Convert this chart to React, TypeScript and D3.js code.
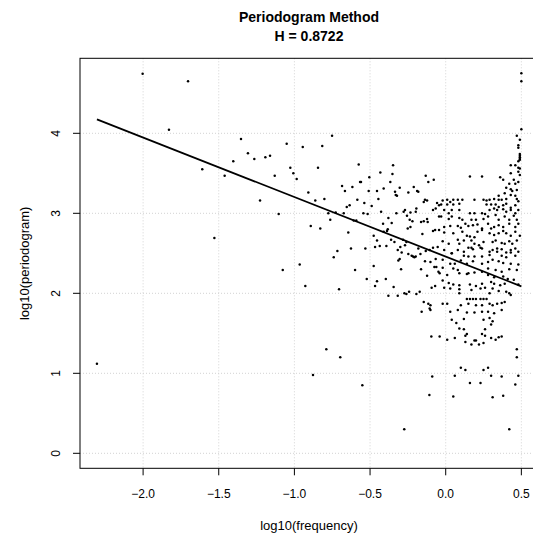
import * as d3 from "d3";

const TITLE = ["Periodogram Method", "H = 0.8722"];
const X_LABEL = "log10(frequency)";
const Y_LABEL = "log10(periodogram)";
const xTicks = [-2.0, -1.5, -1.0, -0.5, 0.0, 0.5];
const yTicks = [0, 1, 2, 3, 4];
// least-squares fit, slope = 1 - 2H
const fit = { intercept: 2.459, slope: -0.7444 };

type Pt = [number, number]; // [log10(frequency), log10(periodogram)]

const lowFreq: Pt[] = [
  [-2.305, 1.12], [-2.003, 4.745], [-1.829, 4.045], [-1.703, 4.65], [-1.609, 3.55],
  [-1.529, 2.69], [-1.461, 3.47], [-1.404, 3.65], [-1.353, 3.93], [-1.307, 3.75],
  [-1.265, 3.68], [-1.227, 3.16], [-1.192, 3.7], [-1.161, 3.72], [-1.13, 3.47],
  [-1.104, 2.99], [-1.077, 2.29], [-1.051, 3.87], [-1.027, 3.57], [-1.007, 3.5],
];

const midFreq: Pt[] = [
  [-0.985, 3.43], [-0.965, 2.36], [-0.945, 3.83], [-0.928, 2.09], [-0.908, 3.26],
  [-0.892, 2.84], [-0.877, 0.98], [-0.862, 3.16], [-0.844, 3.57], [-0.829, 2.81],
  [-0.816, 3.84], [-0.802, 3.18], [-0.789, 1.3], [-0.776, 3.0], [-0.763, 2.92],
  [-0.751, 3.97], [-0.74, 2.45], [-0.727, 3.01], [-0.716, 2.53], [-0.705, 2.05],
  [-0.697, 1.2], [-0.685, 3.34], [-0.674, 3.0], [-0.666, 3.28], [-0.654, 3.08],
  [-0.644, 2.76], [-0.635, 3.1], [-0.626, 2.56], [-0.617, 3.33], [-0.608, 2.91],
  [-0.599, 2.29], [-0.591, 2.91], [-0.584, 3.17], [-0.575, 3.61], [-0.566, 3.39],
  [-0.56, 3.39], [-0.551, 0.85], [-0.544, 3.0], [-0.538, 3.13], [-0.531, 2.56],
  [-0.522, 2.18], [-0.516, 2.99], [-0.509, 3.28], [-0.505, 3.45],
];

const bandFreq: Pt[] = [
  [-0.348, 3.6], [-0.432, 3.51], [-0.352, 3.49], [-0.366, 3.39], [-0.132, 3.47],
  [-0.115, 3.39], [-0.079, 3.42], [-0.454, 3.28], [-0.41, 3.31], [-0.445, 3.18],
  [-0.304, 3.32], [-0.335, 3.27], [-0.33, 3.23], [-0.322, 3.22], [-0.247, 3.26],
  [-0.211, 3.33], [-0.189, 3.28], [-0.181, 3.27], [-0.137, 3.17], [-0.123, 3.16],
  [-0.145, 3.14], [-0.057, 3.13], [-0.044, 3.1], [-0.489, 3.09], [-0.427, 3.02],
  [-0.326, 3.0], [-0.278, 3.02], [-0.269, 3.04], [-0.233, 3.01], [-0.198, 3.02],
  [-0.194, 3.06], [-0.084, 3.04], [-0.066, 3.06], [-0.044, 2.96], [-0.256, 2.97],
  [-0.238, 2.92], [-0.22, 2.9], [-0.163, 2.89], [-0.145, 2.9], [-0.123, 2.93],
  [-0.119, 2.89], [-0.414, 2.87], [-0.379, 2.94], [-0.357, 2.88], [-0.383, 2.8],
  [-0.388, 2.78], [-0.41, 2.77], [-0.233, 2.83], [-0.251, 2.81], [-0.154, 2.74],
  [-0.084, 2.78], [-0.07, 2.79], [-0.044, 2.79], [-0.476, 2.72], [-0.454, 2.66],
  [-0.467, 2.58], [-0.361, 2.67], [-0.339, 2.64], [-0.282, 2.67], [-0.26, 2.64],
  [-0.269, 2.6], [-0.436, 2.59], [-0.392, 2.59], [-0.3, 2.58], [-0.317, 2.54],
  [-0.291, 2.51], [-0.304, 2.43], [-0.313, 2.41], [-0.247, 2.49], [-0.225, 2.47],
  [-0.207, 2.45], [-0.216, 2.46], [-0.198, 2.46], [-0.181, 2.56], [-0.167, 2.49],
  [-0.132, 2.53], [-0.106, 2.54], [-0.084, 2.57], [-0.053, 2.58], [-0.066, 2.43],
  [-0.137, 2.4], [-0.101, 2.39], [-0.062, 2.33], [-0.476, 2.34], [-0.295, 2.3],
  [-0.163, 2.3], [-0.075, 2.33], [-0.048, 2.27], [-0.123, 2.22], [-0.454, 2.15],
  [-0.396, 2.18], [-0.467, 2.09], [-0.344, 2.08], [-0.07, 2.09], [-0.093, 2.07],
  [-0.273, 2.0], [-0.242, 2.02], [-0.379, 1.97], [-0.317, 1.97], [-0.26, 1.99],
  [-0.194, 1.99], [-0.172, 2.02], [-0.145, 1.89], [-0.115, 1.87], [-0.101, 1.85],
  [-0.106, 1.81], [-0.101, 1.79], [-0.159, 1.77], [-0.095, 1.46], [-0.089, 0.96],
  [-0.108, 0.73], [-0.274, 0.3],
];

const highFreq: Pt[] = [
  [0.5, 4.75], [0.5, 4.65], [0.5, 4.05], [0.47, 3.97], [0.49, 3.92], [0.48, 3.85],
  [0.48, 3.82], [0.49, 3.74], [0.49, 3.72], [0.49, 3.7], [0.49, 3.68], [0.49, 3.67],
  [0.48, 3.65], [0.43, 3.6], [0.46, 3.6], [0.48, 3.57], [0.49, 3.56],
  [0.16, 3.46], [0.24, 3.46], [0.36, 3.45], [0.38, 3.42], [0.43, 3.5], [0.48, 3.52],
  [0.49, 3.48], [0.45, 3.42], [0.42, 3.37], [0.46, 3.37], [0.48, 3.39], [0.4, 3.32],
  [0.43, 3.3], [0.44, 3.28], [0.47, 3.29], [0.39, 3.25], [0.43, 3.23], [0.46, 3.22],
  [0.35, 3.22], [0.35, 3.17], [0.29, 3.17], [0.32, 3.18], [-0.02, 3.16], [0.01, 3.17],
  [0.03, 3.14], [0.05, 3.17], [0.08, 3.17], [0.11, 3.17], [0.19, 3.17], [0.25, 3.17],
  [0.27, 3.16], [0.37, 3.17], [0.4, 3.18], [0.47, 3.18], [0.48, 3.15], [-0.03, 3.11],
  [0.01, 3.11], [0.05, 3.11], [0.09, 3.12], [0.27, 3.11], [0.3, 3.11], [0.33, 3.11],
  [0.35, 3.08], [0.38, 3.1], [0.4, 3.12], [0.43, 3.07], [0.46, 3.1], [-0.01, 3.04],
  [0.02, 3.0], [0.04, 3.04], [0.09, 3.04], [0.16, 3.0], [0.19, 3.0], [0.24, 3.0],
  [0.26, 2.99], [0.29, 3.04], [0.32, 3.06], [0.34, 3.04], [0.38, 3.05], [0.4, 3.02],
  [0.43, 3.04], [0.46, 3.0], [0.48, 3.04], [-0.03, 2.96], [0.02, 2.93], [0.04, 2.96],
  [0.09, 2.94], [0.11, 2.92], [0.17, 2.92], [0.2, 2.92], [0.25, 2.93], [0.28, 2.96],
  [0.33, 2.98], [0.35, 2.92], [0.39, 2.96], [0.42, 2.92], [0.45, 2.97], [0.47, 2.92],
  [-0.01, 2.83], [0.03, 2.84], [0.08, 2.84], [0.1, 2.82], [0.13, 2.87], [0.15, 2.84],
  [0.18, 2.85], [0.21, 2.86], [0.24, 2.81], [0.28, 2.87], [0.3, 2.81], [0.32, 2.83],
  [0.35, 2.85], [0.38, 2.83], [0.42, 2.87], [0.46, 2.83], [0.48, 2.87], [-0.01, 2.76],
  [0.05, 2.75], [0.11, 2.77], [0.14, 2.72], [0.16, 2.71], [0.19, 2.7], [0.21, 2.77],
  [0.24, 2.79], [0.29, 2.75], [0.32, 2.73], [0.35, 2.75], [0.38, 2.78], [0.4, 2.75],
  [0.43, 2.72], [0.46, 2.77], [0.49, 2.72], [-0.02, 2.65], [0.02, 2.62], [0.08, 2.67],
  [0.09, 2.62], [0.12, 2.66], [0.17, 2.66], [0.19, 2.62], [0.22, 2.6], [0.25, 2.64],
  [0.31, 2.64], [0.33, 2.66], [0.37, 2.63], [0.39, 2.62], [0.42, 2.65], [0.44, 2.62],
  [0.47, 2.66], [-0.01, 2.54], [0.04, 2.5], [0.08, 2.54], [0.12, 2.52], [0.15, 2.57],
  [0.17, 2.57], [0.18, 2.55], [0.23, 2.57], [0.24, 2.56], [0.29, 2.52], [0.31, 2.54],
  [0.34, 2.56], [0.37, 2.55], [0.4, 2.51], [0.43, 2.54], [0.46, 2.56], [0.48, 2.52],
  [0.04, 2.5], [0.12, 2.47], [0.15, 2.46], [0.19, 2.46], [0.24, 2.46], [0.29, 2.48],
  [0.34, 2.52], [0.37, 2.47], [0.4, 2.45], [0.43, 2.51], [0.46, 2.47], [-0.02, 2.42],
  [0.03, 2.37], [0.06, 2.37], [0.1, 2.41], [0.14, 2.37], [0.18, 2.4], [0.24, 2.37],
  [0.28, 2.39], [0.31, 2.42], [0.35, 2.4], [0.38, 2.38], [0.43, 2.37], [0.48, 2.36],
  [-0.02, 2.32], [0.05, 2.31], [0.08, 2.29], [0.15, 2.25], [0.19, 2.26], [0.24, 2.27],
  [0.28, 2.31], [0.33, 2.29], [0.37, 2.27], [0.42, 2.3], [0.47, 2.29], [-0.04, 2.25],
  [0.01, 2.23], [0.09, 2.25], [0.14, 2.24], [0.28, 2.23], [0.32, 2.2], [0.38, 2.21],
  [0.41, 2.18], [0.45, 2.17], [-0.02, 2.16], [0.02, 2.13], [0.05, 2.11], [0.09, 2.1],
  [0.16, 2.11], [0.2, 2.09], [0.24, 2.12], [0.3, 2.14], [0.32, 2.12], [0.36, 2.1],
  [0.39, 2.12], [0.4, 2.02], [0.42, 2.0], [0.43, 1.98], [0.48, 2.11], [-0.01, 2.07],
  [0.03, 2.06], [0.09, 2.05], [0.17, 2.04], [0.23, 2.06], [0.26, 2.07], [0.31, 2.06],
  [0.35, 2.03], [0.14, 1.93], [0.16, 1.93], [0.18, 1.93], [0.2, 1.93], [0.23, 1.93],
  [0.25, 1.93], [0.27, 1.93], [0.09, 2.0], [0.29, 2.0], [-0.02, 1.87], [0.01, 1.87],
  [0.1, 1.85], [0.15, 1.87], [0.2, 1.85], [0.24, 1.85], [0.29, 1.87], [0.31, 1.85],
  [0.34, 1.87], [0.37, 1.88], [0.39, 1.89], [0.03, 1.77], [0.08, 1.79], [0.14, 1.76],
  [0.19, 1.76], [0.24, 1.77], [0.28, 1.77], [0.32, 1.75], [0.37, 1.79], [0.04, 1.67],
  [0.07, 1.63], [0.12, 1.68], [0.25, 1.67], [0.29, 1.69], [0.31, 1.65], [0.09, 1.56],
  [0.26, 1.55], [0.12, 1.55], [0.3, 1.61], [-0.04, 1.46], [0.01, 1.42], [0.06, 1.44],
  [0.13, 1.47], [0.14, 1.49], [0.13, 1.39], [0.17, 1.36], [0.19, 1.41], [0.2, 1.41],
  [0.22, 1.36], [0.24, 1.49], [0.26, 1.47], [0.25, 1.38], [0.3, 1.44], [0.33, 1.42],
  [0.35, 1.45], [0.37, 1.46], [0.47, 1.3], [0.47, 1.2], [0.1, 1.07], [0.13, 1.04],
  [0.06, 0.97], [0.25, 1.04], [0.28, 1.07], [0.3, 0.97], [0.37, 0.96], [0.48, 0.97],
  [0.16, 0.88], [0.23, 0.88], [0.46, 0.86], [0.05, 0.71], [0.31, 0.7], [0.38, 0.72],
  [0.42, 0.3],
];

const points: Pt[] = [...lowFreq, ...midFreq, ...bandFreq, ...highFreq];

const W = 533;
const H = 535;
const plot = { left: 80, right: 538, top: 58.3, bottom: 468.3 };
const font = "'Liberation Sans', Arial, Helvetica, sans-serif";

export default function App() {
  const x = d3.scaleLinear().domain([-2.417, 0.61]).range([plot.left, plot.right]);
  const y = d3.scaleLinear().domain([-0.1875, 4.9375]).range([plot.bottom, plot.top]);
  const fmtX = d3.format(".1f");
  const [x0, x1] = d3.extent(points, (d) => d[0]) as [number, number];
  const line = d3
    .line<number>()
    .x((v) => x(v))
    .y((v) => y(fit.intercept + fit.slope * v));
  const midY = (plot.top + plot.bottom) / 2;

  return (
    <svg
      width={W}
      height={H}
      style={{ position: "absolute", left: 0, top: 0, background: "#fff" }}
      fontFamily={font}
    >
      <rect x={0} y={0} width={W} height={H} fill="#fff" />
      {/* grid */}
      <g stroke="#d3d3d3" strokeWidth={1} strokeDasharray="1,2">
        {xTicks.map((t) => (
          <line key={"gx" + t} x1={x(t)} x2={x(t)} y1={plot.top} y2={plot.bottom} />
        ))}
        {yTicks.map((t) => (
          <line key={"gy" + t} x1={plot.left} x2={plot.right} y1={y(t)} y2={y(t)} />
        ))}
      </g>
      {/* points */}
      <g fill="#000">
        {points.map((d, i) => (
          <circle key={i} cx={x(d[0])} cy={y(d[1])} r={1.25} />
        ))}
      </g>
      {/* fitted line */}
      <path d={line([x0, x1]) ?? ""} fill="none" stroke="#000" strokeWidth={1.8} />
      {/* box */}
      <rect
        x={plot.left}
        y={plot.top}
        width={plot.right - plot.left}
        height={plot.bottom - plot.top}
        fill="none"
        stroke="#000"
        strokeWidth={1}
      />
      {/* x axis */}
      <g>
        {xTicks.map((t) => (
          <g key={"tx" + t}>
            <line x1={x(t)} x2={x(t)} y1={plot.bottom} y2={plot.bottom + 7} stroke="#000" />
            <text x={x(t)} y={497.5} fontSize={12} textAnchor="middle">
              {fmtX(t)}
            </text>
          </g>
        ))}
      </g>
      {/* y axis */}
      <g>
        {yTicks.map((t) => (
          <g key={"ty" + t}>
            <line x1={plot.left - 7} x2={plot.left} y1={y(t)} y2={y(t)} stroke="#000" />
            <text
              x={60}
              y={y(t)}
              fontSize={12}
              textAnchor="middle"
              transform={`rotate(-90, 60, ${y(t)})`}
            >
              {t}
            </text>
          </g>
        ))}
      </g>
      <text x={(plot.left + plot.right) / 2} y={529.5} fontSize={13} textAnchor="middle">
        {X_LABEL}
      </text>
      <text
        x={29.5}
        y={midY}
        fontSize={13}
        textAnchor="middle"
        transform={`rotate(-90, 29.5, ${midY})`}
      >
        {Y_LABEL}
      </text>
      {TITLE.map((t, i) => (
        <text
          key={t}
          x={(plot.left + plot.right) / 2}
          y={22 + i * 19}
          fontSize={14}
          fontWeight="bold"
          textAnchor="middle"
        >
          {t}
        </text>
      ))}
    </svg>
  );
}
